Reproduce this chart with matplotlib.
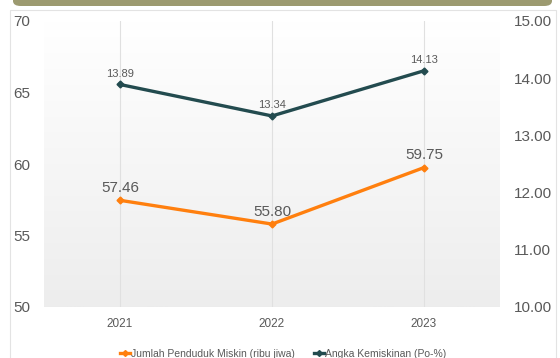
import matplotlib
matplotlib.use("Agg")
import matplotlib.pyplot as plt
import numpy as np
from matplotlib.patches import FancyBboxPatch, Rectangle
from matplotlib.lines import Line2D

plt.rcParams['font.family'] = ['Liberation Sans', 'DejaVu Sans']

years = ["2021", "2022", "2023"]
penduduk_miskin = [57.46, 55.80, 59.75]      # ribu jiwa
angka_kemiskinan = [13.89, 13.34, 14.13]     # Po-%
left_ticks = [50, 55, 60, 65, 70]
right_ticks = [10.00, 11.00, 12.00, 13.00, 14.00, 15.00]

orange = "#ff7f0e"
teal = "#234b4f"
label_gray = "#595959"

W, H = 560, 358
fig = plt.figure(figsize=(W / 100, H / 100), dpi=100)

# header banner and panel border
fig.patches.append(FancyBboxPatch((13 / W, 1 - 6 / H), 539 / W, 14 / H,
                                  boxstyle="round,pad=0,rounding_size=0.014",
                                  transform=fig.transFigure, facecolor="#9c9a70",
                                  edgecolor="none", zorder=0))
fig.patches.append(Rectangle((10 / W, -0.05), 546 / W, (H - 10) / H + 0.05,
                             transform=fig.transFigure, facecolor="none",
                             edgecolor="#e3e3e3", linewidth=0.8, zorder=0))

ax = fig.add_axes([44 / W, 51 / H, 456 / W, 286 / H])
ax2 = ax.twinx()

x = np.arange(len(years))

# soft vertical gradient background: white at top, light grey at bottom
grad = np.linspace(0.0, 1.0, 256).reshape(-1, 1)
cmap = matplotlib.colors.LinearSegmentedColormap.from_list("bg", ["#ffffff", "#ededed"])
ax.imshow(grad, aspect="auto", cmap=cmap, extent=(-0.5, len(years) - 0.5, 50, 70),
          origin="upper", zorder=0, vmin=0, vmax=1)
ax.set_xlim(-0.5, len(years) - 0.5)
ax.set_ylim(50, 70)
ax2.set_ylim(10, 15)

for xi in x:
    ax.axvline(xi, color="#e0e0e0", linewidth=0.8, zorder=1)
ax.axhline(50, color="#e0e0e0", linewidth=0.8, zorder=1)

ax.plot(x, penduduk_miskin, color=orange, linewidth=2.4, marker="D",
        markersize=3.5, zorder=3)
ax2.plot(x, angka_kemiskinan, color=teal, linewidth=2.4, marker="D",
         markersize=3.5, zorder=3)

for xi, v in zip(x, penduduk_miskin):
    ax.annotate(f"{v:.2f}", (xi, v), xytext=(0, 4), textcoords="offset points",
                ha="center", va="bottom", fontsize=11, color=label_gray)
for xi, v in zip(x, angka_kemiskinan):
    ax2.annotate(f"{v:.2f}", (xi, v), xytext=(0, 4), textcoords="offset points",
                 ha="center", va="bottom", fontsize=8, color=label_gray)

ax.set_xticks(x)
ax.set_xticklabels(years)
ax.set_yticks(left_ticks)
ax2.set_yticks(right_ticks)
ax2.set_yticklabels([f"{t:.2f}" for t in right_ticks])

ax.tick_params(axis="x", length=0, pad=8, labelsize=8.5, labelcolor=label_gray)
ax.tick_params(axis="y", length=0, pad=10, labelsize=11, labelcolor=label_gray)
ax2.tick_params(axis="y", length=0, pad=10, labelsize=11, labelcolor=label_gray)

for a in (ax, ax2):
    for s in a.spines.values():
        s.set_visible(False)
ax2.patch.set_visible(False)

handles = [
    Line2D([0], [0], color=orange, linewidth=2.4, marker="D", markersize=3),
    Line2D([0], [0], color=teal, linewidth=2.4, marker="D", markersize=3),
]
fig.legend(handles, ["Jumlah Penduduk Miskin (ribu jiwa)", "Angka Kemiskinan (Po-%)"],
           loc="center", bbox_to_anchor=(283 / W, 1 - 354 / H), ncol=2, frameon=False,
           fontsize=7.5, labelcolor=label_gray, handlelength=1.0, handletextpad=0.1,
           columnspacing=1.8)

fig.savefig("out.png", dpi=100)
